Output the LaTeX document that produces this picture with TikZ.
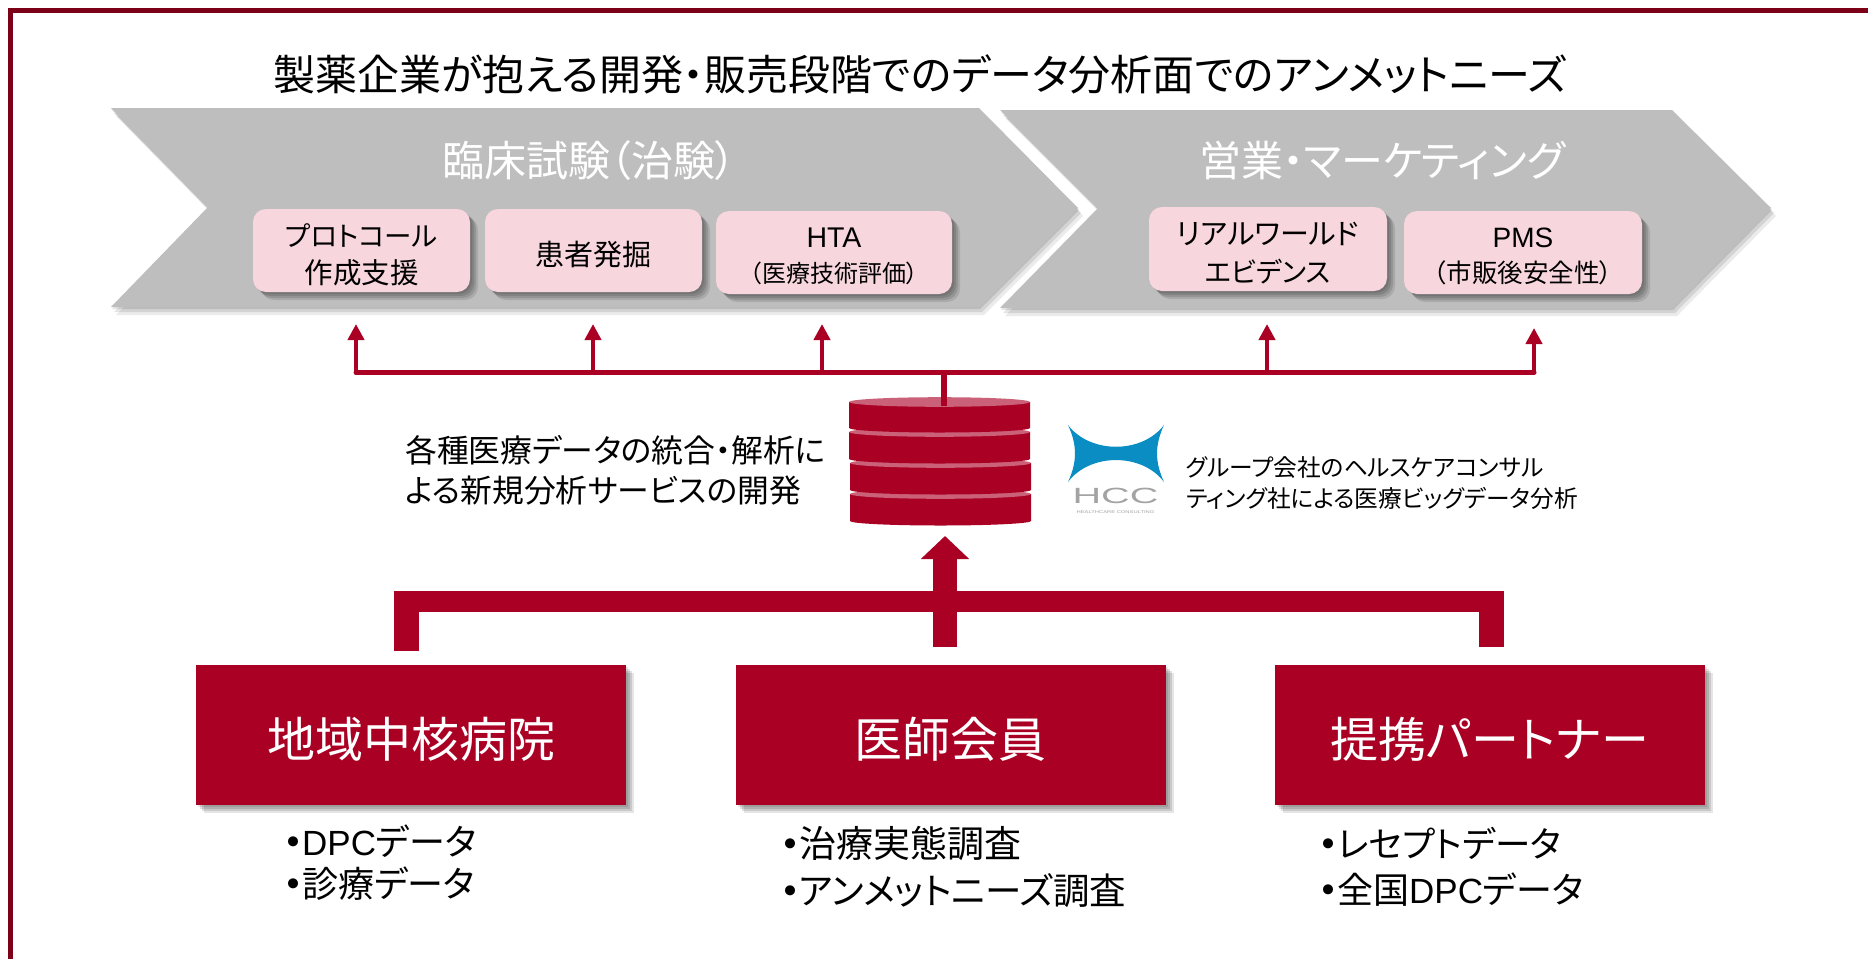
\documentclass[tikz,border=0pt]{standalone}
\usepackage{fontspec}
\setmainfont{Noto Sans CJK JP}[RawFeature=+palt]
\newfontfamily\lat{Liberation Sans}
\usetikzlibrary{arrows.meta,shadows,calc}
\definecolor{crim}{HTML}{AA0024}
\definecolor{framec}{HTML}{7D0019}
\definecolor{chev}{HTML}{BEBEBE}
\definecolor{pinkb}{HTML}{F7D6DE}
\definecolor{disctop}{HTML}{CB6178}
\definecolor{logob}{HTML}{0A8DC3}
\definecolor{logog}{HTML}{A3A3A3}
\newcommand{\fs}[1]{\fontsize{#1}{#1}\selectfont}
\newcommand{\bul}{\makebox[17pt][c]{\fs{36}\textbf{・}}}
\tikzset{
  softsh/.style={
    drop shadow={shadow xshift=2pt,shadow yshift=-2pt,opacity=.10,fill=black},
    drop shadow={shadow xshift=4pt,shadow yshift=-4pt,opacity=.12,fill=black},
    drop shadow={shadow xshift=6pt,shadow yshift=-6pt,opacity=.12,fill=black},
    drop shadow={shadow xshift=8pt,shadow yshift=-8pt,opacity=.10,fill=black}},
  chevsh/.style={
    drop shadow={shadow xshift=1pt,shadow yshift=-2pt,opacity=.10,fill=black},
    drop shadow={shadow xshift=3pt,shadow yshift=-5pt,opacity=.10,fill=black},
    drop shadow={shadow xshift=5pt,shadow yshift=-8pt,opacity=.08,fill=black}},
  chevron/.style={fill=chev,chevsh},
  pinkbox/.style={fill=pinkb,rounded corners=13pt,inner sep=0pt,softsh},
  pinktext/.style={inner sep=0pt,align=center,yshift=-4pt},
  redbox/.style={fill=crim,inner sep=0pt,softsh,minimum width=430pt,minimum height=140pt},
  redtext/.style={inner sep=0pt,text=white,yshift=-4pt},
  thinarrow/.style={draw=crim,line width=4.5pt,-{Triangle[width=16pt,length=16pt]}},
  buslink/.style={draw=crim,line width=5pt},
  thickbar/.style={draw=crim,line width=21pt},
  txt/.style={inner sep=0pt,anchor=west},
  headw/.style={inner sep=0pt,text=white}
}
\newcommand{\disc}[3]{% x-left, top y, bottom y
  \fill[crim] (#1,#2) -- (#1,#3) arc[x radius=90.5,y radius=-4.5,start angle=180,end angle=360]
     -- (#1+181,#2) -- cycle;
  \fill[disctop] (#1+90.5,#2) ellipse[x radius=90.5,y radius=4.8];
}
\begin{document}
\begin{tikzpicture}[x=1pt,y=-1pt]
\useasboundingbox (0,0) rectangle (1868,959);
\fill[white] (0,0) rectangle (1868,959);
% frame
\fill[framec] (8,8) rectangle (1868,13);
\fill[framec] (8,8) rectangle (13,959);
% title
\node[headw,text=black] (title) at (920,74) {\fs{42}製薬企業が抱える開発・販売段階でのデータ分析面でのアンメットニーズ};
% chevrons
\path[chevron] (111,108) -- (979,108) -- (1078,208) -- (979,307) -- (111,307) -- (208,207) -- cycle;
\path[chevron] (1000,110) -- (1672,110) -- (1771,208) -- (1672,308) -- (1000,308) -- (1098,208) -- cycle;
\node[headw] (h1) at (589,161) {\fs{42}臨床試験（治験）};
\node[headw] (h2) at (1382,161) {\fs{42}営業・マーケティング};
% pink boxes
\node[pinkbox,minimum width=217pt,minimum height=83pt] (p1) at (361.5,250.5) {};
\node[pinktext] (p1t) at (p1) {\fs{27.5}プロトコール\\[11pt]\fs{28.5}作成支援};
\node[pinkbox,minimum width=217pt,minimum height=83pt] (p2) at (593.5,250.5) {};
\node[pinktext] (p2t) at (p2) {\fs{29}患者発掘};
\node[pinkbox,minimum width=236pt,minimum height=83pt] (p3) at (834,252.5) {};
\node[pinktext] (p3t) at (p3) {\lat\fs{28.5}HTA\\[13pt]\fs{24}\normalfont（医療技術評価）};
\node[pinkbox,minimum width=238pt,minimum height=84pt] (p4) at (1268,249) {};
\node[pinktext] (p4t) at (p4) {\fs{29}リアルワールド\\[12pt]\fs{27.5}エビデンス};
\node[pinkbox,minimum width=238pt,minimum height=83pt] (p5) at (1523,252.5) {};
\node[pinktext] (p5t) at (p5) {\lat\fs{28}PMS\\[12pt]\normalfont\fs{25.5}（市販後安全性）};
% bus and arrows
\coordinate (b1) at (356,372.5);
\coordinate (b2) at (593,372.5);
\coordinate (b3) at (822,372.5);
\coordinate (b4) at (1267,372.5);
\coordinate (b5) at (1534,372.5);
\coordinate (t1) at (356,324);
\coordinate (t2) at (593,324);
\coordinate (t3) at (822,324);
\coordinate (t4) at (1267,324);
\coordinate (t5) at (1534,328);
\coordinate (db) at (944,372.5);
\coordinate (dbtop) at (944,406);
% database
\disc{850}{494}{521}
\disc{850}{463}{490}
\disc{849}{432}{459}
\disc{849}{402}{428}
\draw[buslink,line cap=round,line join=round] (b1) -- (b5);
\foreach \i in {1,...,5}{\draw[thinarrow] (b\i) -- (t\i);}
\draw[draw=crim,line width=6pt] (db) -- (dbtop);
% labels mid
\node[txt,align=left] (mid) at (405,470) {\fs{31.8}各種医療データの統合・解析に\\[10pt]\fs{31.8}よる新規分析サービスの開発};
\node[txt,align=left] (hcct) at (1186,483) {\fs{23.7}グループ会社のヘルスケアコンサル\\[7pt]\fs{23.7}ティング社による医療ビッグデータ分析};
% logo
\fill[logob] (1068,425) .. controls (1090,454) and (1142,454) .. (1164,425)
  .. controls (1154.7,445) and (1154.7,462) .. (1164,482)
  .. controls (1142,452.7) and (1090,452.7) .. (1068,482)
  .. controls (1077.3,462) and (1077.3,445) .. (1068,425) -- cycle;
\node[inner sep=0pt,text=logog,xscale=1.8] (hcc) at (1115.5,496) {\lat\fs{22}HCC};
\node[inner sep=0pt,text=logog,xscale=1.45] (hccs) at (1115.5,512.5) {\lat\fs{4}HEALTHCARE CONSULTING};
% red boxes
\node[redbox] (r1) at (411,735) {};
\node[redtext] (r1t) at (r1) {\fs{48}地域中核病院};
\node[redbox] (r2) at (950.5,735) {};
\node[redtext] (r2t) at (r2) {\fs{48}医師会員};
\node[redbox] (r3) at (1489.5,735) {};
\node[redtext] (r3t) at (r3) {\fs{48}提携パートナー};
% thick connector
\coordinate (tl) at (406,651);
\coordinate (tr) at (1491.5,647);
\coordinate (tm) at (945,647);
\coordinate (ta) at (945,536);
\draw[thickbar,line width=25pt] (tl) -- ($(tl)+(0,-50)$);
\draw[thickbar,line width=25pt] (tr) -- ($(tr)+(0,-46)$);
\draw[thickbar] (393.5,601) -- (1504,601);
\draw[draw=crim,line width=24pt,-{Triangle[width=47pt,length=23pt]}] (tm) -- (ta);
% lists
\node[txt] (l1a) at (285,841) {\bul\lat\fs{35}DPC\normalfont\fs{36}データ};
\node[txt] (l1b) at (285,884) {\bul\fs{36}診療データ};
\node[txt] (l2a) at (782,843) {\bul\fs{37}治療実態調査};
\node[txt] (l2b) at (782,891) {\bul\fs{36.5}アンメットニーズ調査};
\node[txt] (l3a) at (1320,843) {\bul\fs{35.5}レセプトデータ};
\node[txt] (l3b) at (1320,890) {\bul\fs{36}全国\lat\fs{35}DPC\normalfont\fs{36}データ};
\end{tikzpicture}
\end{document}
